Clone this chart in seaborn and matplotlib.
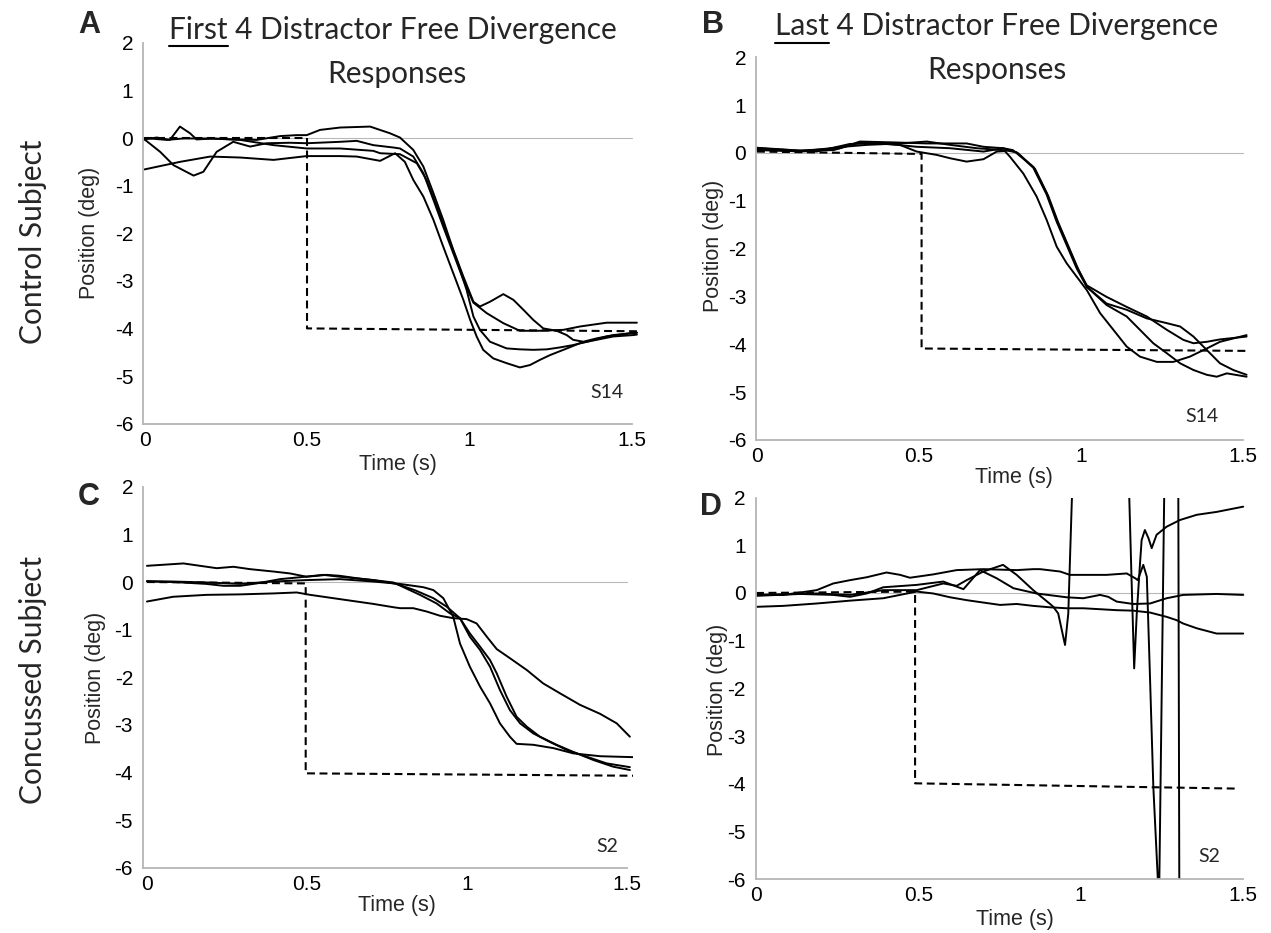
import matplotlib
matplotlib.use("Agg")
import matplotlib.pyplot as plt
from matplotlib.lines import Line2D
import pandas as pd
import seaborn as sns

# ---------------- DATA ----------------
# Panel A : control subject, first 4 responses
A1_t = [0.0, 0.048, 0.110, 0.202, 0.294, 0.397, 0.499, 0.602, 0.653, 0.725, 0.771, 0.801, 0.827, 0.858, 0.889, 0.919, 0.950, 0.981, 1.002, 1.022, 1.042, 1.073, 1.114, 1.155, 1.186, 1.217, 1.248, 1.289, 1.340, 1.391, 1.442, 1.504, 1.515]
A1_v = [-0.66, -0.59, -0.50, -0.39, -0.41, -0.46, -0.38, -0.38, -0.39, -0.48, -0.32, -0.50, -0.88, -1.23, -1.72, -2.28, -2.84, -3.40, -3.82, -4.17, -4.45, -4.63, -4.73, -4.82, -4.77, -4.66, -4.56, -4.45, -4.31, -4.24, -4.17, -4.14, -4.13]
A2_t = [0.0, 0.068, 0.120, 0.191, 0.273, 0.345, 0.417, 0.468, 0.499, 0.540, 0.602, 0.694, 0.755, 0.786, 0.827, 0.858, 0.889, 0.919, 0.950, 0.981, 1.012, 1.032, 1.063, 1.104, 1.135, 1.166, 1.196, 1.227, 1.268, 1.299, 1.319, 1.350, 1.391, 1.442, 1.504, 1.515]
A2_v = [0.0, -0.04, -0.01, -0.01, -0.03, -0.04, 0.04, 0.06, 0.06, 0.17, 0.22, 0.24, 0.10, 0.01, -0.25, -0.60, -1.16, -1.72, -2.35, -2.91, -3.44, -3.54, -3.44, -3.28, -3.40, -3.61, -3.82, -4.00, -4.05, -4.14, -4.24, -4.28, -4.21, -4.14, -4.10, -4.09]
A3_t = [0.0, 0.048, 0.089, 0.151, 0.181, 0.222, 0.273, 0.325, 0.376, 0.448, 0.499, 0.602, 0.653, 0.704, 0.766, 0.786, 0.827, 0.858, 0.889, 0.919, 0.950, 0.981, 1.012, 1.053, 1.104, 1.155, 1.217, 1.289, 1.340, 1.422, 1.515]
A3_v = [-0.03, -0.29, -0.57, -0.79, -0.71, -0.29, -0.08, -0.18, -0.11, -0.10, -0.11, -0.08, -0.06, -0.15, -0.20, -0.22, -0.39, -0.74, -1.30, -1.86, -2.42, -2.98, -3.46, -3.68, -3.89, -4.05, -4.05, -4.03, -3.96, -3.88, -3.88]
A4_t = [0.0, 0.037, 0.078, 0.109, 0.140, 0.160, 0.212, 0.294, 0.397, 0.499, 0.602, 0.704, 0.725, 0.786, 0.838, 0.868, 0.899, 0.930, 0.961, 0.991, 1.012, 1.032, 1.063, 1.114, 1.155, 1.196, 1.238, 1.278, 1.319, 1.361, 1.422, 1.494, 1.515]
A4_v = [-0.03, 0.01, -0.04, 0.24, 0.10, -0.03, -0.01, -0.04, -0.15, -0.22, -0.22, -0.27, -0.32, -0.34, -0.53, -0.88, -1.44, -2.00, -2.56, -3.19, -3.75, -4.03, -4.28, -4.42, -4.44, -4.45, -4.44, -4.40, -4.35, -4.28, -4.17, -4.10, -4.09]
TA_t = [0.0, 0.5, 0.5, 1.515]
TA_v = [0.0, 0.0, -4.0, -4.06]

# Panel B : control subject, last 4 responses
B1_t = [0.0, 0.133, 0.236, 0.318, 0.441, 0.493, 0.555, 0.596, 0.647, 0.699, 0.740, 0.765, 0.781, 0.822, 0.863, 0.894, 0.925, 0.956, 0.987, 1.018, 1.059, 1.100, 1.141, 1.182, 1.234, 1.285, 1.336, 1.388, 1.429, 1.470, 1.511]
B1_v = [0.10, 0.05, 0.06, 0.22, 0.17, 0.03, -0.04, -0.11, -0.18, -0.13, 0.03, 0.04, -0.08, -0.43, -0.91, -1.40, -1.96, -2.31, -2.59, -2.87, -3.35, -3.70, -4.05, -4.26, -4.37, -4.37, -4.26, -4.09, -3.95, -3.88, -3.81]
B2_t = [0.0, 0.133, 0.256, 0.318, 0.431, 0.524, 0.647, 0.699, 0.760, 0.790, 0.853, 0.894, 0.925, 0.956, 0.987, 1.018, 1.079, 1.141, 1.203, 1.265, 1.316, 1.347, 1.388, 1.429, 1.511]
B2_v = [0.11, 0.05, 0.10, 0.24, 0.22, 0.20, 0.20, 0.13, 0.10, 0.06, -0.29, -0.84, -1.40, -1.89, -2.38, -2.77, -3.01, -3.22, -3.42, -3.70, -3.91, -3.98, -3.95, -3.90, -3.84]
B3_t = [0.0, 0.133, 0.267, 0.339, 0.441, 0.524, 0.596, 0.678, 0.760, 0.800, 0.853, 0.894, 0.925, 0.956, 0.987, 1.018, 1.079, 1.141, 1.203, 1.265, 1.306, 1.347, 1.388, 1.429, 1.470, 1.511]
B3_v = [0.08, 0.03, 0.13, 0.17, 0.20, 0.24, 0.17, 0.10, 0.06, 0.02, -0.31, -0.87, -1.44, -1.93, -2.42, -2.80, -3.15, -3.28, -3.46, -3.56, -3.63, -3.84, -4.12, -4.40, -4.54, -4.64]
B4_t = [0.0, 0.184, 0.287, 0.390, 0.493, 0.596, 0.699, 0.760, 0.805, 0.858, 0.899, 0.930, 0.961, 0.992, 1.018, 1.079, 1.141, 1.182, 1.223, 1.265, 1.306, 1.347, 1.388, 1.419, 1.450, 1.511]
B4_v = [0.06, 0.03, 0.19, 0.20, 0.13, 0.10, 0.03, 0.10, 0.0, -0.33, -0.90, -1.46, -1.95, -2.44, -2.80, -3.18, -3.42, -3.70, -3.98, -4.19, -4.40, -4.54, -4.64, -4.68, -4.61, -4.68]
TB_t = [0.0, 0.508, 0.508, 1.511]
TB_v = [0.03, -0.02, -4.09, -4.14]

# Panel C : concussed subject, first 4 responses
C1_t = [0.0, 0.082, 0.186, 0.291, 0.395, 0.468, 0.510, 0.603, 0.707, 0.770, 0.791, 0.832, 0.874, 0.916, 0.957, 0.999, 1.030, 1.062, 1.093, 1.134, 1.187, 1.238, 1.291, 1.353, 1.416, 1.468, 1.509]
C1_v = [-0.41, -0.31, -0.27, -0.26, -0.24, -0.22, -0.27, -0.36, -0.46, -0.53, -0.55, -0.55, -0.62, -0.71, -0.76, -0.78, -0.87, -1.15, -1.41, -1.60, -1.85, -2.13, -2.34, -2.58, -2.77, -2.97, -3.25]
C2_t = [0.0, 0.082, 0.186, 0.291, 0.395, 0.499, 0.603, 0.707, 0.790, 0.864, 0.895, 0.926, 0.957, 0.978, 1.009, 1.041, 1.072, 1.103, 1.134, 1.155, 1.207, 1.270, 1.332, 1.416, 1.520]
C2_v = [0.01, 0.01, -0.01, -0.04, 0.01, 0.04, 0.06, 0.01, -0.04, -0.11, -0.17, -0.34, -0.73, -1.29, -1.78, -2.20, -2.55, -2.97, -3.25, -3.40, -3.42, -3.49, -3.60, -3.66, -3.68]
C3_t = [0.0, 0.114, 0.218, 0.270, 0.322, 0.395, 0.447, 0.499, 0.561, 0.603, 0.655, 0.707, 0.770, 0.853, 0.905, 0.947, 0.978, 1.009, 1.041, 1.072, 1.103, 1.134, 1.166, 1.207, 1.259, 1.312, 1.374, 1.436, 1.509]
C3_v = [0.34, 0.39, 0.29, 0.32, 0.27, 0.22, 0.18, 0.11, 0.15, 0.13, 0.08, 0.04, -0.01, -0.27, -0.45, -0.66, -0.76, -1.15, -1.43, -1.78, -2.27, -2.69, -2.97, -3.18, -3.36, -3.53, -3.67, -3.81, -3.89]
C4_t = [0.0, 0.082, 0.186, 0.239, 0.291, 0.343, 0.416, 0.478, 0.551, 0.603, 0.707, 0.780, 0.840, 0.895, 0.937, 0.978, 1.009, 1.041, 1.072, 1.093, 1.124, 1.155, 1.187, 1.228, 1.280, 1.332, 1.395, 1.457, 1.509]
C4_v = [0.02, 0.0, -0.04, -0.08, -0.08, -0.03, 0.06, 0.10, 0.15, 0.11, 0.04, -0.04, -0.18, -0.34, -0.52, -0.76, -1.08, -1.36, -1.64, -1.92, -2.41, -2.83, -3.04, -3.25, -3.42, -3.57, -3.74, -3.88, -3.95]
TC_t = [0.0, 0.496, 0.496, 1.52]
TC_v = [0.0, -0.03, -4.02, -4.07]

# Panel D : concussed subject, last 4 responses (values beyond the axis run off the chart)
D1_t = [0.0, 0.084, 0.187, 0.290, 0.392, 0.495, 0.546, 0.598, 0.649, 0.700, 0.752, 0.803, 0.854, 0.906, 0.957, 1.008, 1.060, 1.111, 1.162, 1.214, 1.265, 1.296, 1.316, 1.358, 1.419, 1.501]
D1_v = [-0.29, -0.27, -0.22, -0.16, -0.11, 0.03, -0.01, -0.09, -0.15, -0.20, -0.25, -0.23, -0.27, -0.30, -0.32, -0.32, -0.34, -0.36, -0.37, -0.41, -0.50, -0.57, -0.64, -0.74, -0.85, -0.85]
D2_t = [0.0, 0.084, 0.187, 0.238, 0.290, 0.341, 0.402, 0.444, 0.474, 0.546, 0.618, 0.700, 0.803, 0.854, 0.875, 0.937, 0.967, 1.029, 1.080, 1.142, 1.168, 1.176, 1.193, 1.204, 1.214, 1.224, 1.240, 1.242, 1.258, 1.3009, 1.3041]
D2_v = [-0.04, -0.04, 0.06, 0.20, 0.27, 0.33, 0.43, 0.38, 0.32, 0.39, 0.48, 0.50, 0.48, 0.50, 0.50, 0.45, 0.38, 0.38, 0.38, 0.41, 0.31, 0.27, 0.59, 0.34, -1.82, -4.06, -6.3, -6.3, 2.3, 2.3, -6.3]
D3_t = [0.0, 0.187, 0.290, 0.392, 0.495, 0.577, 0.618, 0.649, 0.700, 0.761, 0.803, 0.854, 0.906, 0.916, 0.931, 0.952, 0.962, 0.973, 0.976, 1.148, 1.150, 1.157, 1.165, 1.173, 1.183, 1.188, 1.198, 1.209, 1.219, 1.234, 1.265, 1.306, 1.358, 1.419, 1.501]
D3_v = [-0.04, -0.01, -0.04, 0.06, 0.06, 0.20, 0.15, 0.27, 0.45, 0.59, 0.38, 0.06, -0.23, -0.29, -0.43, -1.09, -0.43, 1.95, 2.3, 2.3, 1.98, 0.27, -1.58, -0.43, 0.62, 1.11, 1.32, 1.15, 0.94, 1.22, 1.39, 1.53, 1.64, 1.70, 1.81]
D4_t = [0.0, 0.136, 0.238, 0.290, 0.341, 0.392, 0.495, 0.577, 0.639, 0.690, 0.741, 0.793, 0.864, 0.957, 1.008, 1.060, 1.085, 1.111, 1.162, 1.214, 1.265, 1.316, 1.419, 1.501]
D4_v = [-0.06, -0.02, -0.04, -0.08, -0.01, 0.12, 0.17, 0.24, 0.08, 0.48, 0.31, 0.10, -0.01, -0.09, -0.11, -0.04, -0.08, -0.18, -0.23, -0.22, -0.11, -0.04, -0.02, -0.04]
TD_t = [0.0, 0.490, 0.490, 1.476]
TD_v = [0.0, 0.03, -3.99, -4.10]

ZERO_T = [0.0, 1.5]
ZERO_V = [0.0, 0.0]

X_TICKS = [0, 0.5, 1, 1.5]
X_TICKLABELS = ["0", "0.5", "1", "1.5"]
Y_TICKS = [2, 1, 0, -1, -2, -3, -4, -5, -6]
Y_TICKLABELS = ["2", "1", "0", "-1", "-2", "-3", "-4", "-5", "-6"]

PANEL_LETTERS = ["A", "B", "C", "D"]
SUBJECT_TAGS = ["S14", "S14", "S2", "S2"]
TITLE_A_WORD, TITLE_A_REST = "First", " 4 Distractor Free Divergence"
TITLE_B_WORD, TITLE_B_REST = "Last", " 4 Distractor Free Divergence"
TITLE_LINE2 = "Responses"
ROW_LABELS = ["Control Subject", "Concussed Subject"]
X_LABEL = "Time (s)"
Y_LABEL = "Position (deg)"

# ---------------- FIGURE ----------------
W, H = 1271, 933
sns.set_theme(style="white")
plt.rcParams["font.family"] = ["Liberation Sans", "DejaVu Sans"]
plt.rcParams["axes.unicode_minus"] = False
CAL = ["Lato", "DejaVu Sans"]

fig = plt.figure(figsize=(W / 100, H / 100), dpi=100)
fig.patch.set_facecolor("white")


def fx(px):
    return px / W


def fy(py):
    return 1 - py / H


def to_df(traces):
    parts = []
    for i, (tt, vv) in enumerate(traces):
        parts.append(pd.DataFrame({"t": tt, "pos": vv, "trace": i}))
    return pd.concat(parts, ignore_index=True)


panels = [
    dict(box=(142.9, 638.5, 42.8, 423.6), xlim=(-0.005, 1.52),
         traces=[(A1_t, A1_v), (A2_t, A2_v), (A3_t, A3_v), (A4_t, A4_v)],
         target=(TA_t, TA_v), tag_px=(607, 393), ylab_px=(90, 233), xlab_px=(398, 464),
         letter_px=(89, 25)),
    dict(box=(756.0, 1249.5, 57.4, 439.8), xlim=(-0.003, 1.52),
         traces=[(B1_t, B1_v), (B2_t, B2_v), (B3_t, B3_v), (B4_t, B4_v)],
         target=(TB_t, TB_v), tag_px=(1202, 417), ylab_px=(713, 246), xlab_px=(1014, 478),
         letter_px=(713, 25)),
    dict(box=(142.8, 633.4, 486.8, 867.6), xlim=(-0.013, 1.52),
         traces=[(C1_t, C1_v), (C2_t, C2_v), (C3_t, C3_v), (C4_t, C4_v)],
         target=(TC_t, TC_v), tag_px=(607, 847), ylab_px=(95, 678), xlab_px=(397, 905),
         letter_px=(89, 497)),
    dict(box=(755.7, 1249.4, 497.6, 879.2), xlim=(-0.001, 1.52),
         traces=[(D1_t, D1_v), (D2_t, D2_v), (D3_t, D3_v), (D4_t, D4_v)],
         target=(TD_t, TD_v), tag_px=(1209, 857), ylab_px=(717, 690), xlab_px=(1015, 920),
         letter_px=(711, 507)),
]

axes = []
for i, p in enumerate(panels):
    l, r, t, b = p["box"]
    ax = fig.add_axes([fx(l), fy(b), (r - l) / W, (b - t) / H])
    ax.set_facecolor("white")
    sns.lineplot(x=ZERO_T, y=ZERO_V, color="#b8b8b8", lw=0.8, ax=ax,
                 estimator=None, sort=False)
    sns.lineplot(data=to_df(p["traces"]), x="t", y="pos", units="trace",
                 estimator=None, sort=False, color="black", lw=1.4, ax=ax, legend=False)
    sns.lineplot(x=p["target"][0], y=p["target"][1], color="black", lw=1.5,
                 linestyle=(0, (3.8, 2.2)), ax=ax, estimator=None, sort=False)
    ax.set_xlim(*p["xlim"])
    ax.set_ylim(-6, 2)
    for s in ["top", "right"]:
        ax.spines[s].set_visible(False)
    for s in ["left", "bottom"]:
        ax.spines[s].set_color("#b5b5b5")
        ax.spines[s].set_linewidth(1.3)
    ax.spines["bottom"].set_bounds(p["xlim"][0], 1.5)
    ax.set_xticks(X_TICKS)
    ax.set_xticklabels(X_TICKLABELS)
    ax.set_yticks(Y_TICKS)
    ax.set_yticklabels(Y_TICKLABELS)
    ax.tick_params(direction="in", length=4, width=0.8, color="#a8a8a8",
                   labelsize=15, labelcolor="black")
    ax.tick_params(axis="x", pad=5)
    ax.tick_params(axis="y", pad=7)
    ax.set_xlabel(X_LABEL, fontsize=15.5)
    ax.set_ylabel(Y_LABEL, fontsize=15.5)
    ax.xaxis.label.set_va("center")
    ax.yaxis.label.set_va("center")
    ax.xaxis.set_label_coords((p["xlab_px"][0] - l) / (r - l), (b - p["xlab_px"][1]) / (b - t))
    ax.yaxis.set_label_coords((p["ylab_px"][0] - l) / (r - l), (b - p["ylab_px"][1]) / (b - t))
    ax.grid(False)
    axes.append(ax)
    fig.text(fx(p["letter_px"][0]), fy(p["letter_px"][1]), PANEL_LETTERS[i],
             fontsize=22, fontweight="bold", ha="center", va="center")

# --- Calibri-like texts: fit the title width to the reference ---
base = 22.0
line1_a = fig.text(fx(393), fy(38.5), TITLE_A_WORD + TITLE_A_REST, ha="center",
                   va="baseline", fontsize=base, family=CAL)
fig.canvas.draw()
renderer = fig.canvas.get_renderer()
w0 = line1_a.get_window_extent(renderer).width
fs = base * 446.0 / w0
line1_a.set_fontsize(fs)
line1_b = fig.text(fx(997), fy(35.5), TITLE_B_WORD + TITLE_B_REST, ha="center",
                   va="baseline", fontsize=fs, family=CAL)
fig.text(fx(397), fy(82.5), TITLE_LINE2, ha="center", va="baseline", fontsize=fs, family=CAL)
fig.text(fx(997), fy(79.5), TITLE_LINE2, ha="center", va="baseline", fontsize=fs, family=CAL)

fig.text(fx(33), fy(242), ROW_LABELS[0], rotation=90, ha="center", va="center",
         fontsize=fs, family=CAL)
fig.text(fx(33), fy(680), ROW_LABELS[1], rotation=90, ha="center", va="center",
         fontsize=fs, family=CAL)

for i, p in enumerate(panels):
    fig.text(fx(p["tag_px"][0]), fy(p["tag_px"][1]), SUBJECT_TAGS[i], ha="center",
             va="center", fontsize=fs * 15.5 / 23.7, family=CAL)

# underline of the first word in each title
fig.canvas.draw()
renderer = fig.canvas.get_renderer()
for txt, word, base_py in [(line1_a, TITLE_A_WORD, 38.5), (line1_b, TITLE_B_WORD, 35.5)]:
    bb = txt.get_window_extent(renderer)
    tmp = fig.text(0, 0, word, fontsize=fs, family=CAL)
    ww = tmp.get_window_extent(renderer).width
    tmp.remove()
    yy = fy(base_py + 7)
    fig.add_artist(Line2D([bb.x0 / W, (bb.x0 + ww) / W], [yy, yy],
                          transform=fig.transFigure, color="black", lw=1.5))

fig.savefig("out.png", dpi=100, facecolor="white")
